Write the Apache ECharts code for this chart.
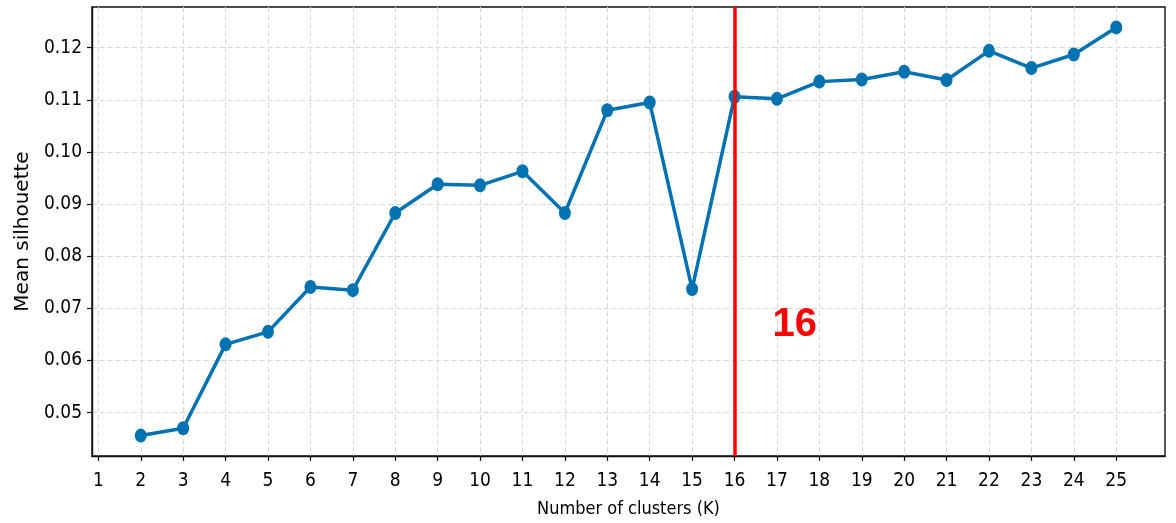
<!DOCTYPE html>
<html>
<head>
<meta charset="utf-8">
<script src="https://cdn.jsdelivr.net/npm/echarts@6/dist/echarts.min.js"></script>
<style>
  html, body { margin: 0; padding: 0; background: #fff; }
  #chart { width: 1176px; height: 523px; }
</style>
</head>
<body>
<div id="chart"></div>
<script>
// Number of clusters tried and the mean silhouette score for each
const clusterCounts = [2, 3, 4, 5, 6, 7, 8, 9, 10, 11, 12, 13, 14, 15, 16, 17, 18, 19, 20, 21, 22, 23, 24, 25];
const meanSilhouette = [0.0456, 0.0470, 0.0631, 0.0655, 0.0741, 0.0735, 0.0883, 0.0938, 0.0936, 0.0963,
  0.0883, 0.1080, 0.1095, 0.0737, 0.1106, 0.1102, 0.1135, 0.1139, 0.1154, 0.1138, 0.1194, 0.1161, 0.1187, 0.1239];
const xTicks = [1, 2, 3, 4, 5, 6, 7, 8, 9, 10, 11, 12, 13, 14, 15, 16, 17, 18, 19, 20, 21, 22, 23, 24, 25];
const yTicks = [0.05, 0.06, 0.07, 0.08, 0.09, 0.10, 0.11, 0.12];
const chosenK = 16;

const points = clusterCounts.map((k, i) => [k, meanSilhouette[i]]);

// axis extents padded by 5% of the data span
const xSpan = Math.max(...clusterCounts) - Math.min(...clusterCounts);
const ySpan = Math.max(...meanSilhouette) - Math.min(...meanSilhouette);
const xMin = Math.min(...clusterCounts) - 0.05 * xSpan;
const xMax = Math.max(...clusterCounts) + 0.05 * xSpan;
const yMin = Math.min(...meanSilhouette) - 0.05 * ySpan;
const yMax = Math.max(...meanSilhouette) + 0.05 * ySpan;

const tickFont = "'DejaVu Sans Condensed', 'DejaVu Sans', sans-serif";
const gridLine = { show: true, lineStyle: { color: '#d9d9d9', width: 1, type: [5, 3] } };

const chart = echarts.init(document.getElementById('chart'), null, { renderer: 'canvas' });
chart.setOption({
  animation: false,
  backgroundColor: '#fff',
  grid: { left: 92, right: 11, top: 7, bottom: 67, show: true, borderColor: '#111', borderWidth: 1.4, backgroundColor: 'transparent' },
  xAxis: {
    type: 'value',
    min: xMin,
    max: xMax,
    name: 'Number of clusters (K)',
    nameLocation: 'middle',
    nameGap: 44,
    nameTextStyle: { fontFamily: tickFont, fontSize: 18, color: '#000' },
    axisLine: { show: true, onZero: false, lineStyle: { color: '#111', width: 1.4 } },
    axisTick: { show: true, length: 5, customValues: xTicks, lineStyle: { color: '#111', width: 1.2 } },
    axisLabel: { customValues: xTicks, margin: 16, fontFamily: tickFont, fontSize: 19, color: '#000' },
    splitLine: gridLine
  },
  yAxis: {
    type: 'value',
    min: yMin,
    max: yMax,
    name: 'Mean silhouette',
    nameLocation: 'middle',
    nameGap: 52,
    nameRotate: 90,
    nameTextStyle: { fontFamily: "'DejaVu Sans', sans-serif", fontSize: 20, color: '#000' },
    axisLine: { show: true, onZero: false, lineStyle: { color: '#111', width: 1.4 } },
    axisTick: { show: true, length: 5, customValues: yTicks, lineStyle: { color: '#111', width: 1.2 } },
    axisLabel: { customValues: yTicks, margin: 10, fontFamily: tickFont, fontSize: 19, color: '#000',
      formatter: v => v.toFixed(2) },
    splitLine: gridLine
  },
  series: [{
    type: 'line',
    data: points,
    symbol: 'circle',
    symbolSize: [12, 14],
    lineStyle: { color: '#0072B2', width: 3.5 },
    itemStyle: { color: '#0072B2' },
    z: 3,
    markLine: {
      silent: true,
      symbol: 'none',
      label: { show: false },
      lineStyle: { color: '#ff0000', width: 3.5, type: 'solid' },
      data: [{ xAxis: chosenK }],
      z: 4
    },
    markPoint: {
      silent: true,
      symbol: 'circle',
      symbolSize: 0,
      data: [{ coord: [chosenK + 1.42, 0.0668], value: chosenK }],
      label: {
        show: true,
        position: 'inside',
        formatter: String(chosenK),
        fontFamily: "'Liberation Sans', Arial, sans-serif",
        fontWeight: 'bold',
        fontSize: 40,
        color: '#ff0000'
      }
    }
  }]
});
</script>
</body>
</html>
